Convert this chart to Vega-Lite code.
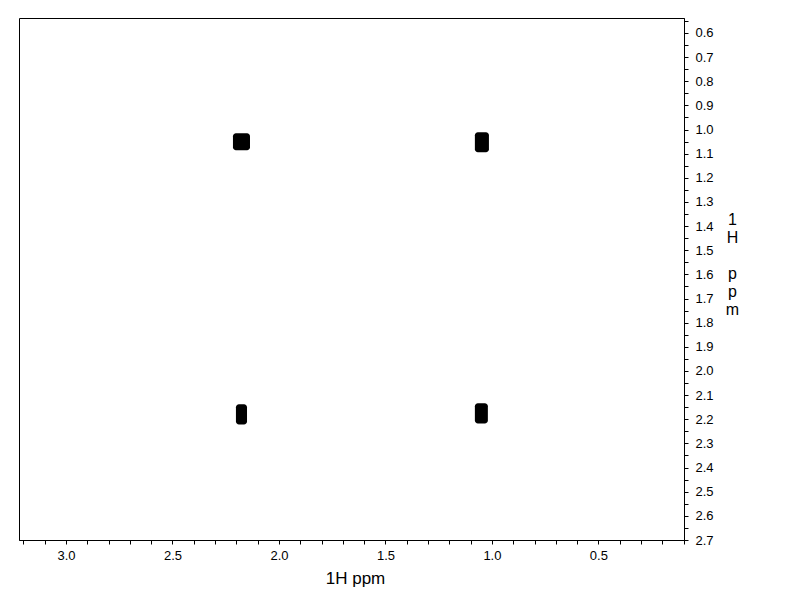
{
  "$schema": "https://vega.github.io/schema/vega-lite/v6.json",
  "width": 665,
  "height": 522,
  "autosize": {"type": "none"},
  "padding": {"left": 19, "top": 18, "right": 108, "bottom": 72},
  "background": "white",
  "config": {
    "view": {"stroke": "black", "strokeWidth": 1},
    "font": "Liberation Sans"
  },
  "data": {
    "values": [
      {"f2_a": 2.216, "f2_b": 2.136, "f1_a": 1.015, "f1_b": 1.086},
      {"f2_a": 1.080, "f2_b": 1.014, "f1_a": 1.011, "f1_b": 1.094},
      {"f2_a": 2.202, "f2_b": 2.150, "f1_a": 2.138, "f1_b": 2.222},
      {"f2_a": 1.080, "f2_b": 1.019, "f1_a": 2.134, "f1_b": 2.218}
    ]
  },
  "mark": {"type": "rect", "color": "black", "cornerRadius": 3},
  "encoding": {
    "x": {
      "field": "f2_a",
      "type": "quantitative",
      "scale": {"domain": [3.2207, 0.098], "nice": false, "zero": false},
      "axis": {
        "title": "1H ppm",
        "values": [3.2, 3.1, 3.0, 2.9, 2.8, 2.7, 2.6, 2.5, 2.4, 2.3, 2.2, 2.1, 2.0, 1.9, 1.8, 1.7, 1.6, 1.5, 1.4, 1.3, 1.2, 1.1, 1.0, 0.9, 0.8, 0.7, 0.6, 0.5, 0.4, 0.3, 0.2, 0.1],
        "labelExpr": "abs(datum.value*2 - round(datum.value*2)) < 0.001 ? format(datum.value, '.1f') : ''",
        "grid": false,
        "domainColor": "black",
        "tickColor": "black",
        "tickSize": 4,
        "labelColor": "black",
        "labelFontSize": 13,
        "labelPadding": 5,
        "labelFlush": false,
        "labelOverlap": false,
        "titleFontSize": 17,
        "titleFontWeight": "normal",
        "titleColor": "black",
        "titleBaseline": "alphabetic",
        "titleY": 43,
        "titleX": 336
      }
    },
    "x2": {"field": "f2_b"},
    "y": {
      "field": "f1_a",
      "type": "quantitative",
      "scale": {"domain": [0.538, 2.7], "nice": false, "zero": false, "reverse": true},
      "axis": {
        "orient": "right",
        "title": ["1", "H", "\u200b", "p", "p", "m"],
        "values": [0.55, 0.6, 0.65, 0.7, 0.75, 0.8, 0.85, 0.9, 0.95, 1.0, 1.05, 1.1, 1.15, 1.2, 1.25, 1.3, 1.35, 1.4, 1.45, 1.5, 1.55, 1.6, 1.65, 1.7, 1.75, 1.8, 1.85, 1.9, 1.95, 2.0, 2.05, 2.1, 2.15, 2.2, 2.25, 2.3, 2.35, 2.4, 2.45, 2.5, 2.55, 2.6, 2.65, 2.7],
        "labelExpr": "abs(datum.value*10 - round(datum.value*10)) < 0.001 ? format(datum.value, '.1f') : ''",
        "grid": false,
        "domainColor": "black",
        "tickColor": "black",
        "tickSize": 4,
        "labelColor": "black",
        "labelFontSize": 13,
        "labelPadding": 7,
        "labelFlush": false,
        "labelOverlap": false,
        "titleFontSize": 16,
        "titleFontWeight": "normal",
        "titleColor": "black",
        "titleAngle": 0,
        "titleAlign": "center",
        "titleBaseline": "top",
        "titleLineHeight": 18,
        "titleX": 48,
        "titleY": 193
      }
    },
    "y2": {"field": "f1_b"}
  }
}
